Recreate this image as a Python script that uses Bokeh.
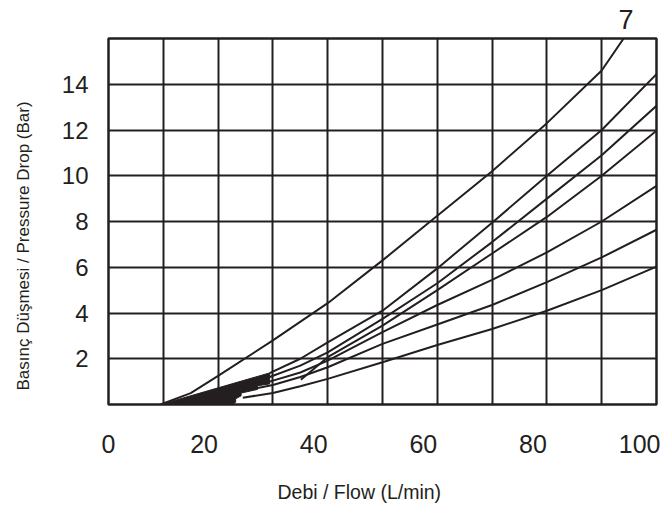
from bokeh.plotting import figure
from bokeh.models import Range1d, FixedTicker, Title
from bokeh.embed import file_html
from bokeh.resources import INLINE

FONT = "Liberation Sans"
INK = "#231f20"

# ---- data ----
x_ticks = [0, 20, 40, 60, 80, 100]
x_tick_labels = ["0", "20", "40", "60", "80", "100"]
y_ticks = [2, 4, 6, 8, 10, 12, 14]
x_grid = [10, 20, 30, 40, 50, 60, 70, 80, 90]

flow_1 = [24.5, 30, 35, 40, 50, 60, 70, 80, 90, 100]
drop_1 = [0.3, 0.5, 0.8, 1.12, 1.85, 2.6, 3.3, 4.1, 5.0, 6.03]
flow_2 = [27.2, 30, 35, 40, 50, 60, 70, 80, 90, 100]
drop_2 = [0.72, 0.85, 1.2, 1.63, 2.65, 3.5, 4.35, 5.35, 6.43, 7.64]
flow_3 = [29.4, 35, 40, 50, 60, 70, 80, 90, 100]
drop_3 = [1.0, 1.4, 1.92, 3.16, 4.35, 5.45, 6.65, 8.0, 9.56]
flow_4 = [35.1, 40, 50, 60, 70, 80, 90, 100]
drop_4 = [1.08, 2.07, 3.45, 5.0, 6.6, 8.2, 10.0, 11.97]
flow_5 = [29.4, 35, 40, 50, 60, 70, 80, 90, 100]
drop_5 = [1.2, 1.7, 2.28, 3.74, 5.3, 7.1, 9.0, 10.9, 13.06]
flow_6 = [29.4, 35, 40, 50, 60, 70, 80, 90, 100]
drop_6 = [1.37, 2.0, 2.72, 4.1, 5.95, 7.95, 10.0, 12.0, 14.44]
flow_7 = [9.5, 15, 20, 30, 40, 50, 60, 70, 80, 90, 94]
drop_7 = [0.0, 0.5, 1.25, 2.8, 4.43, 6.3, 8.25, 10.2, 12.3, 14.6, 16.0]

# black start-up region where the curves bunch together
fill_x = [9.5, 29.4, 29.4, 27.2, 27.2, 24.2, 24.2, 23.2, 23.2, 22.6]
fill_y = [0.0, 1.38, 0.9, 0.82, 0.66, 0.5, 0.38, 0.25, 0.1, 0.0]

curve_label = "7"
x_title = "Debi / Flow (L/min)"
y_title = "Basınç Düşmesi / Pressure Drop (Bar)"

# ---- figure ----
FRAME_W, FRAME_H = 548, 366
p = figure(frame_width=FRAME_W, frame_height=FRAME_H, output_backend="svg",
           toolbar_location=None,
           x_range=Range1d(0, 100), y_range=Range1d(0, 16),
           min_border_left=108, min_border_right=4, min_border_top=38,
           min_border_bottom=0)
p.background_fill_color = "white"
p.border_fill_color = "white"
p.outline_line_color = INK
p.outline_line_width = 2.5

# x tick labels in the original sit ~14px left of their grid lines
shift = round(14 * 100 / FRAME_W, 2)
label_pos = [max(0.0, round(v - shift, 2)) for v in x_ticks]
xa = p.xaxis[0]
xa.ticker = FixedTicker(ticks=label_pos)
xa.major_label_overrides = {pos: lab for pos, lab in zip(label_pos, x_tick_labels)}
xa.axis_line_color = None
xa.major_tick_line_color = None
xa.minor_tick_line_color = None
xa.major_tick_out = 0
xa.major_tick_in = 0
xa.major_label_standoff = 30
xa.major_label_text_font = FONT
xa.major_label_text_font_size = "25px"
xa.major_label_text_color = INK
xa.axis_label = " "          # spacer only
xa.axis_label_text_font_size = "10px"
xa.axis_label_standoff = 8

p.xgrid.ticker = FixedTicker(ticks=x_grid)
p.xgrid.grid_line_color = INK
p.xgrid.grid_line_width = 2

ya = p.yaxis[0]
ya.ticker = FixedTicker(ticks=y_ticks)
p.ygrid.ticker = FixedTicker(ticks=y_ticks)
p.ygrid.grid_line_color = INK
p.ygrid.grid_line_width = 2
ya.axis_line_color = None
ya.major_tick_line_color = None
ya.minor_tick_line_color = None
ya.major_tick_out = 0
ya.major_tick_in = 0
ya.major_label_standoff = 20
ya.major_label_text_font = FONT
ya.major_label_text_font_size = "24px"
ya.major_label_text_color = INK
ya.axis_label = " "          # spacer only
ya.axis_label_text_font_size = "10px"
ya.axis_label_standoff = 11

p.patch(fill_x, fill_y, fill_color=INK, line_color=INK, line_width=1)
for fx, fy in [(flow_1, drop_1), (flow_2, drop_2), (flow_3, drop_3),
               (flow_4, drop_4), (flow_5, drop_5), (flow_6, drop_6),
               (flow_7, drop_7)]:
    p.line(fx, fy, line_color=INK, line_width=2)

p.add_layout(Title(text=curve_label, align="left", offset=510, standoff=15,
                   vertical_align="top",
                   text_font=FONT, text_font_size="27px", text_font_style="normal",
                   text_color=INK), "above")
p.add_layout(Title(text=x_title, align="left", offset=169, standoff=2,
                   text_font=FONT, text_font_size="19.5px", text_font_style="normal",
                   text_color=INK), "below")
p.add_layout(Title(text=y_title, align="left", offset=14, standoff=2,
                   text_font=FONT, text_font_size="17px", text_font_style="normal",
                   text_color=INK), "left")

open("out.html", "w").write(file_html(p, INLINE))
